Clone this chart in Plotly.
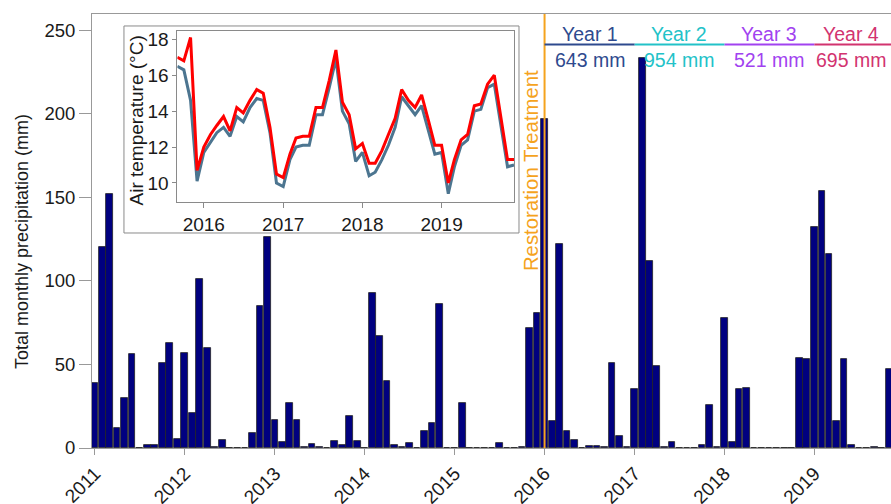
import plotly.graph_objects as go
import pandas as pd

# ---------------- data ----------------
months = pd.date_range("2011-01-01", periods=107, freq="MS")

precip_2011 = [39, 120, 152, 12, 30, 56, 0.3, 1.5, 2, 51, 63, 5.5]
precip_2012 = [57, 21, 101, 60, 0.8, 5, 0.2, 0.2, 0.3, 9, 85, 126]
precip_2013 = [17, 3.5, 27, 17, 0.5, 2.2, 0.5, 0.2, 4.4, 1.5, 19, 4.2]
precip_2014 = [0.3, 93, 67, 40, 1.7, 0.6, 2.8, 0.2, 10, 15, 86, 0.2]
precip_2015 = [0.2, 27, 0.3, 0.2, 0.2, 0.2, 3.2, 0.2, 0.3, 0.8, 72, 81]
precip_2016 = [197, 16, 122, 10, 4.5, 0.3, 1.2, 1.2, 0.5, 51, 7, 0.5]
precip_2017 = [35, 233, 112, 49, 0.5, 3.4, 0.2, 0.3, 0.2, 1.5, 26, 0.5]
precip_2018 = [78, 3.4, 35, 36, 0.2, 0.2, 0.2, 0.2, 0.2, 0.3, 54, 53]
precip_2019 = [132, 154, 116, 16, 53, 1.5, 0.2, 0.3, 0.8, 0.2, 47]
precip = (precip_2011 + precip_2012 + precip_2013 + precip_2014 + precip_2015
          + precip_2016 + precip_2017 + precip_2018 + precip_2019)

temp_months = pd.date_range("2015-09-01", periods=52, freq="MS")
temp_red = [17.0, 16.8, 18.1, 10.7, 12.0, 12.7, 13.2, 13.7, 12.9, 14.2, 13.9, 14.6,
            15.2, 15.0, 13.1, 10.5, 10.3, 11.6, 12.5, 12.6, 12.6, 14.2, 14.2, 15.7,
            17.4, 14.5, 13.8, 11.9, 12.2, 11.1, 11.1, 11.8, 12.7, 13.6, 15.2, 14.6,
            14.2, 14.9, 13.5, 12.1, 12.1, 10.0, 11.3, 12.4, 12.7, 14.3, 14.4, 15.5,
            16.0, 13.7, 11.3, 11.3]
temp_blue = [16.5, 16.3, 14.6, 10.1, 11.7, 12.3, 12.8, 13.1, 12.6, 13.7, 13.4, 14.2,
             14.7, 14.6, 12.8, 10.0, 9.8, 11.3, 12.0, 12.1, 12.1, 13.8, 13.8, 15.3,
             16.9, 14.0, 13.3, 11.2, 11.7, 10.4, 10.6, 11.3, 12.1, 13.1, 14.8, 14.3,
             13.8, 14.3, 12.9, 11.6, 11.7, 9.4, 10.9, 12.1, 12.4, 14.0, 14.1, 15.3,
             15.5, 13.3, 10.9, 11.0]

year_ticks = ["2011", "2012", "2013", "2014", "2015", "2016", "2017", "2018", "2019"]
inset_ticks = ["2016", "2017", "2018", "2019"]

period_labels = ["Year 1", "Year 2", "Year 3", "Year 4"]
period_totals = ["643 mm", "954 mm", "521 mm", "695 mm"]
period_start = ["2016-01-01", "2017-01-01", "2018-01-01", "2019-01-01"]
period_end = ["2017-01-01", "2018-01-01", "2019-01-01", "2020-01-01"]
period_center = ["2016-07-02", "2017-07-02", "2018-07-02", "2019-05-31"]
period_colors = ["#2E4A8E", "#22C2C8", "#A142F0", "#D2336F"]

# ---------------- figure ----------------
FONT = "Liberation Sans, Arial, Helvetica, sans-serif"
TXT = "#1a1a1a"
AXC = "#999999"
ORANGE = "#F5A31E"

fig = go.Figure()

fig.add_trace(go.Bar(
    x=months, y=precip, width=27.2 * 86400000,
    marker=dict(color="#000080", line=dict(color="#222222", width=0.8)),
    xaxis="x", yaxis="y", hoverinfo="skip"))

fig.add_trace(go.Scatter(
    x=temp_months, y=temp_blue, mode="lines",
    line=dict(color="#4C7590", width=3), xaxis="x2", yaxis="y2"))
fig.add_trace(go.Scatter(
    x=temp_months, y=temp_red, mode="lines",
    line=dict(color="#FF0000", width=3), xaxis="x2", yaxis="y2"))

YMAX = 259.6

shapes = [
    # inset background box
    dict(type="rect", xref="paper", yref="paper",
         x0=0.040, x1=0.5344, y0=0.4954, y1=0.9724,
         fillcolor="white", line=dict(color="#8a8a8a", width=1), layer="below"),
    # restoration treatment line
    dict(type="line", xref="x", yref="y", x0="2016-01-01", x1="2016-01-01",
         y0=0, y1=YMAX, line=dict(color=ORANGE, width=2)),
]
annotations = [
    dict(text="Restoration Treatment", xref="x", yref="y", x="2016-01-01", y=166,
         xshift=-13, textangle=-90, showarrow=False,
         xanchor="center", yanchor="middle",
         font=dict(family=FONT, size=20.3, color=ORANGE)),
    dict(text="Total monthly precipitation (mm)", xref="paper", yref="paper",
         x=-0.0876, y=0.4747, textangle=-90, showarrow=False,
         xanchor="center", yanchor="middle",
         font=dict(family=FONT, size=18, color=TXT)),
    dict(text="Air temperature (°C)", xref="paper", yref="paper",
         x=0.0563, y=0.7546, textangle=-90, showarrow=False,
         xanchor="center", yanchor="middle",
         font=dict(family=FONT, size=19, color=TXT)),
]
for lab, tot, s, e, c, col in zip(period_labels, period_totals, period_start,
                                   period_end, period_center, period_colors):
    shapes.append(dict(type="line", xref="x", yref="y", x0=s, x1=e,
                       y0=241.3, y1=241.3, line=dict(color=col, width=2)))
    annotations.append(dict(text=lab, xref="x", yref="y", x=c, y=247.5,
                            showarrow=False, xanchor="center", yanchor="middle",
                            font=dict(family=FONT, size=19.5, color=col)))
    annotations.append(dict(text=tot, xref="x", yref="y", x=c, y=232,
                            showarrow=False, xanchor="center", yanchor="middle",
                            font=dict(family=FONT, size=19.5, color=col)))

fig.update_layout(
    width=891, height=504,
    margin=dict(l=92, r=0, t=14, b=56, autoexpand=False),
    plot_bgcolor="white", paper_bgcolor="white",
    showlegend=False,
    font=dict(family=FONT, color=TXT),
    bargap=0,
    shapes=shapes, annotations=annotations,
    xaxis=dict(
        type="date", range=["2010-12-20", "2019-11-08"], automargin=False,
        showline=True, linecolor=AXC, linewidth=1, mirror=True,
        ticks="outside", ticklen=6, tickcolor=AXC,
        tickvals=[t + "-01-01" for t in year_ticks], ticktext=year_ticks,
        tickangle=-45, tickfont=dict(size=19, color=TXT),
        showgrid=False, zeroline=False),
    yaxis=dict(
        range=[0, YMAX], automargin=False,
        showline=True, linecolor=AXC, linewidth=1,
        ticks="outside", ticklen=12, tickcolor=AXC,
        tickvals=[0, 50, 100, 150, 200, 250],
        tickfont=dict(size=18.5, color=TXT),
        showgrid=False, zeroline=False),
    xaxis2=dict(
        domain=[0.1068, 0.5282], anchor="y2", automargin=False,
        type="date", range=["2015-09-01", "2019-12-01"],
        showline=True, linecolor="#8a8a8a", linewidth=1, mirror=True,
        ticks="outside", ticklen=5, tickcolor="#8a8a8a",
        tickvals=[t + "-01-01" for t in inset_ticks], ticktext=inset_ticks,
        tickangle=0, tickfont=dict(size=19, color=TXT),
        showgrid=False, zeroline=False),
    yaxis2=dict(
        domain=[0.5668, 0.9608], anchor="x2", automargin=False,
        range=[8.94, 18.46],
        showline=True, linecolor="#8a8a8a", linewidth=1, mirror=True,
        ticks="outside", ticklen=4, tickcolor="#8a8a8a",
        tickvals=[10, 12, 14, 16, 18],
        tickfont=dict(size=19, color=TXT),
        showgrid=False, zeroline=False),
)

fig.write_html(
    "out.html",
    config={"displayModeBar": False},
    post_script="document.body.style.margin='0';document.body.style.overflow='hidden';",
)
